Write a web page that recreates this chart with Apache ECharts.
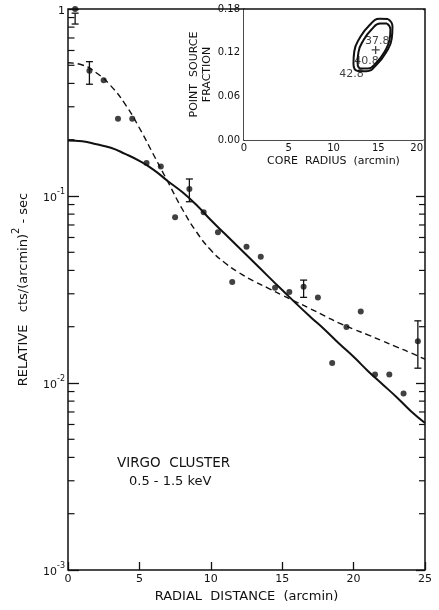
<!DOCTYPE html>
<html><head><meta charset="utf-8">
<script src="https://cdn.jsdelivr.net/npm/echarts@6/dist/echarts.min.js"></script>
<style>html,body{margin:0;padding:0;background:#fff}#c{width:439px;height:610px}</style>
</head><body><div id="c"></div>
<script>
// ---- main panel data ----
const radius = [0.5,1.5,2.5,3.5,4.5,5.5,6.5,7.5,8.5,9.5,10.5,11.5,12.5,13.5,14.5,15.5,16.5,17.5,18.5,19.5,20.5,21.5,22.5,23.5,24.5];
const brightness = [1.0,0.467,0.416,0.259,0.259,0.150,0.144,0.0769,0.109,0.0818,0.064,0.0347,0.0536,0.0474,0.0323,0.0307,0.0327,0.0287,0.0128,0.0199,0.0241,0.0111,0.0111,0.0088,0.0167];
const errX = [0.5,1.5,8.5,16.5,24.5];
const errLow = [0.831,0.396,0.0932,0.0287,0.0120];
const errHigh = [0.95,0.523,0.1233,0.0355,0.0215];
const curveX = [0,1,2,3,4,5,6,7,8,9,10,11,12,13,14,15,16,17,18,19,20,21,22,23,24,25];
const solidFit = [0.198,0.196,0.189,0.181,0.168,0.154,0.138,0.120,0.105,0.0895,0.0744,0.0626,0.0527,0.0444,0.0373,0.0314,0.0265,0.0225,0.0192,0.0162,0.0138,0.0116,0.00988,0.00842,0.00709,0.00611];
const dashedFit = [0.516,0.502,0.455,0.388,0.310,0.231,0.1657,0.1188,0.0852,0.0642,0.0514,0.0438,0.0388,0.0351,0.0322,0.0295,0.0271,0.0249,0.0228,0.0209,0.0194,0.0181,0.0168,0.0156,0.0145,0.0134];
const xTickLabels = ['0','5','10','15','20','25'];
const yMajorTicks = [0.001,0.01,0.1,1];
const yMinorTicks = [0.002,0.003,0.004,0.005,0.006,0.007,0.008,0.009,
                     0.02,0.03,0.04,0.05,0.06,0.07,0.08,0.09,
                     0.2,0.3,0.4,0.5,0.6,0.7,0.8,0.9];
// ---- inset data ----
const outerCoreX = [16.09,16.59,16.51,15.87,14.83,13.69,12.74,12.23,12.32,12.96,13.99,15.14,16.09];
const outerFracY = [0.1663,0.1563,0.1395,0.1202,0.1037,0.0945,0.0948,0.1048,0.1216,0.1408,0.1573,0.1666,0.1663];
const innerCoreX = [15.98,16.36,16.26,15.69,14.80,13.85,13.07,12.69,12.79,13.36,14.25,15.20,15.98];
const innerFracY = [0.1601,0.1518,0.1375,0.1209,0.1065,0.0982,0.0982,0.1065,0.1208,0.1374,0.1518,0.1601,0.1601];
const bestFit = [14.71,0.1237];
const contourLabels = ['37.8','40.8','42.8'];
const contourLabelX = [14.9,13.7,12.0];
const contourLabelY = [0.1364,0.109,0.0907];
const insetXTicks = ['0','5','10','15','20'];
const insetYTicks = ['0.00','0.06','0.12','0.18'];

const FONT = 'DejaVu Sans';
const K = '#111';

const chart = echarts.init(document.getElementById('c'), null, {renderer:'canvas'});

function zip(a,b){return a.map((v,i)=>[v,b[i]]);}

const option = {
  backgroundColor:'#fff',
  animation:false,
  textStyle:{fontFamily:FONT,color:K},
  grid:[
    {left:68, top:9, width:357, height:561, show:true, backgroundColor:'transparent', borderColor:K, borderWidth:1.5, z:5},
    {left:244, top:9, width:179, height:131, show:true, backgroundColor:'#fff', borderWidth:0, z:1}
  ],
  xAxis:[
    {gridIndex:0, type:'value', min:0, max:25, interval:5,
     axisLine:{show:false}, splitLine:{show:false},
     axisTick:{inside:true, length:8, lineStyle:{color:K, width:1.3}},
     axisLabel:{margin:4, fontSize:11, color:K, fontFamily:FONT, formatter:(v)=>xTickLabels[v/5]},
     name:'RADIAL  DISTANCE  (arcmin)', nameLocation:'middle', nameGap:17,
     nameTextStyle:{fontSize:13, color:K, fontFamily:FONT}},
    {gridIndex:1, type:'value', min:0, max:20, interval:5,
     axisLine:{show:true, lineStyle:{color:K, width:1.5}}, splitLine:{show:false},
     axisTick:{inside:true, length:8, customValues:[5,10,15], lineStyle:{color:K, width:1.3}},
     axisLabel:{margin:3, fontSize:10, color:K, fontFamily:FONT, alignMaxLabel:'right', formatter:(v)=>insetXTicks[v/5]},
     name:'CORE  RADIUS  (arcmin)', nameLocation:'middle', nameGap:16,
     nameTextStyle:{fontSize:11, color:K, fontFamily:FONT}}
  ],
  yAxis:[
    {gridIndex:0, type:'log', logBase:10, min:0.001, max:1, position:'left',
     axisLine:{show:false}, splitLine:{show:false}, minorTick:{show:false},
     axisTick:{inside:true, length:11, lineStyle:{color:K, width:1.3}},
     axisLabel:{margin:3, color:K, fontFamily:FONT,
       formatter:(v)=>{ if (Math.abs(v-1)<1e-9) return '{b|1}'; return '{b|10}{e|' + Math.round(Math.log10(v)) + '}'; },
       rich:{b:{fontSize:11, lineHeight:16, verticalAlign:'bottom', fontFamily:FONT, color:K},
             e:{fontSize:8, lineHeight:16, verticalAlign:'top', fontFamily:FONT, color:K}}},
     name:'{t|RELATIVE   cts/(arcmin)}{s|2}{t| - sec}', nameLocation:'middle', nameGap:38, nameRotate:90,
     nameTextStyle:{color:K, fontFamily:FONT, rich:{
       t:{fontSize:13, lineHeight:19, verticalAlign:'bottom', fontFamily:FONT, color:K},
       s:{fontSize:10, lineHeight:19, verticalAlign:'top', fontFamily:FONT, color:K}}}},
    {gridIndex:0, type:'log', logBase:10, min:0.001, max:1, position:'right',
     axisLine:{show:false}, splitLine:{show:false},
     axisTick:{inside:true, length:9, lineStyle:{color:K, width:1.3}},
     axisLabel:{show:false}},
    {gridIndex:1, type:'value', min:0, max:0.18, interval:0.06,
     axisLine:{show:true, lineStyle:{color:K, width:1.5}}, splitLine:{show:false},
     axisTick:{inside:true, length:5, customValues:[0.06,0.12], lineStyle:{color:K, width:1.3}},
     axisLabel:{margin:4, fontSize:10, color:K, fontFamily:FONT, formatter:(v)=>insetYTicks[Math.round(v/0.06)]},
     name:'POINT  SOURCE\nFRACTION', nameLocation:'middle', nameGap:30, nameRotate:90,
     nameTextStyle:{fontSize:11, lineHeight:13, color:K, fontFamily:FONT, align:'center'}}
  ],
  graphic:[
    {type:'text', left:117, top:456, style:{text:'VIRGO  CLUSTER', font:'13.5px "DejaVu Sans"', fill:K}},
    {type:'text', left:129, top:475, style:{text:'0.5 - 1.5 keV', font:'13px "DejaVu Sans"', fill:K}}
  ],
  series:[
    {type:'line', xAxisIndex:0, yAxisIndex:0, data:zip(curveX, solidFit), smooth:true, showSymbol:false,
     lineStyle:{color:K, width:2}, z:3},
    {type:'line', xAxisIndex:0, yAxisIndex:0, data:zip(curveX, dashedFit), smooth:true, showSymbol:false,
     lineStyle:{color:K, width:1.4, type:[6,4]}, z:3},
    {type:'scatter', xAxisIndex:0, yAxisIndex:0, data:zip(radius, brightness), symbol:'circle', symbolSize:6,
     itemStyle:{color:K}, z:4},
    {type:'custom', xAxisIndex:0, yAxisIndex:0, data:errX.map((x,i)=>[x, errLow[i], errHigh[i]]),
     encode:{x:0, y:[1,2]}, z:4,
     renderItem:(params, api)=>{
       const x = api.value(0);
       const lo = api.coord([x, api.value(1)]);
       const hi = api.coord([x, api.value(2)]);
       const w = 3.5;
       const st = {stroke:K, lineWidth:1.3};
       return {type:'group', children:[
         {type:'line', shape:{x1:lo[0], y1:lo[1], x2:hi[0], y2:hi[1]}, style:st},
         {type:'line', shape:{x1:lo[0]-w, y1:lo[1], x2:lo[0]+w, y2:lo[1]}, style:st},
         {type:'line', shape:{x1:hi[0]-w, y1:hi[1], x2:hi[0]+w, y2:hi[1]}, style:st}
       ]};
     }},
    {type:'custom', xAxisIndex:0, yAxisIndex:0, data:yMinorTicks.map(v=>[0, v]),
     encode:{x:0, y:1}, z:4, silent:true,
     renderItem:(params, api)=>{
       const v = api.value(1);
       const pL = api.coord([0, v]);
       const pR = api.coord([25, v]);
       const st = {stroke:K, lineWidth:1.2};
       const kids = [{type:'line', shape:{x1:pL[0], y1:pL[1], x2:pL[0]+6.5, y2:pL[1]}, style:st}];
       if (v < 0.15) kids.push({type:'line', shape:{x1:pR[0]-6, y1:pR[1], x2:pR[0], y2:pR[1]}, style:st});
       return {type:'group', children:kids};
     }},
    // inset
    {type:'line', xAxisIndex:1, yAxisIndex:2, data:zip(outerCoreX, outerFracY), smooth:0.5, showSymbol:false,
     lineStyle:{color:K, width:2}, z:6},
    {type:'line', xAxisIndex:1, yAxisIndex:2, data:zip(innerCoreX, innerFracY), smooth:0.5, showSymbol:false,
     lineStyle:{color:K, width:2}, z:6},
    {type:'scatter', xAxisIndex:1, yAxisIndex:2, data:[bestFit], symbol:'path://M4,0h1.6v4.2h4.2v1.6h-4.2v4.2h-1.6v-4.2h-4.2v-1.6h4.2z',
     symbolSize:8, itemStyle:{color:K}, z:7},
    {type:'scatter', xAxisIndex:1, yAxisIndex:2,
     data:contourLabels.map((t,i)=>[contourLabelX[i], contourLabelY[i], t]), symbolSize:0, z:8,
     label:{show:true, position:'inside', formatter:(p)=>p.data[2], fontSize:11, color:K, fontFamily:FONT,
            backgroundColor:'transparent'}}
  ]
};
chart.setOption(option);
</script></body></html>
